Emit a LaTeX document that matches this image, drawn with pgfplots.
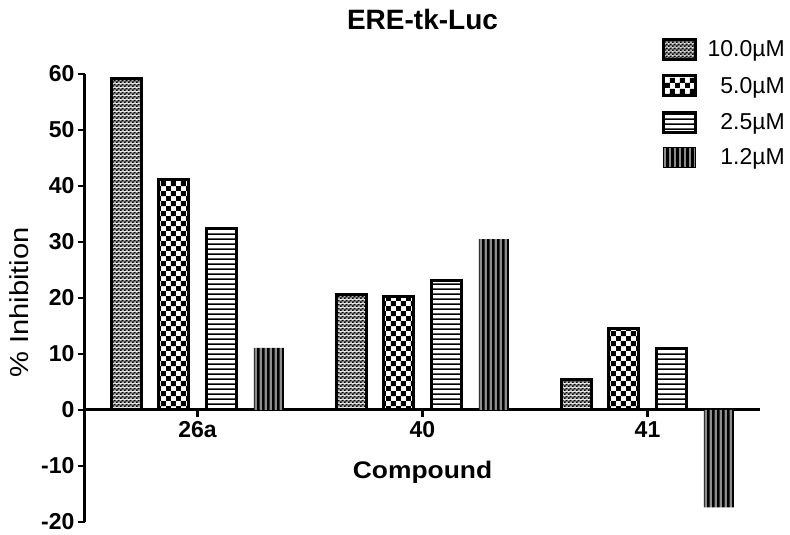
\documentclass[border=0pt]{standalone}
\usepackage{fontspec}
\setmainfont{Liberation Sans}
\usepackage{pgfplots}
\pgfplotsset{compat=1.18}
\usetikzlibrary{patterns}

% bar fills, as in the Prism export
\pgfdeclarepatterninherentlycolored{finecheck}{\pgfpointorigin}{\pgfpoint{4pt}{4pt}}{\pgfpoint{4pt}{4pt}}{%
  \pgfsetfillcolor{black!30}%
  \pgfpathrectangle{\pgfpointorigin}{\pgfpoint{4pt}{4pt}}\pgfusepath{fill}%
  \pgfsetfillcolor{black}%
  \pgfpathrectangle{\pgfpointorigin}{\pgfpoint{2pt}{2pt}}%
  \pgfpathrectangle{\pgfpoint{2pt}{2pt}}{\pgfpoint{2pt}{2pt}}%
  \pgfusepath{fill}}
\pgfdeclarepatternformonly{coarsecheck}{\pgfpointorigin}{\pgfpoint{10.4pt}{10.4pt}}{\pgfpoint{10.4pt}{10.4pt}}{%
  \pgfpathrectangle{\pgfpointorigin}{\pgfpoint{5.2pt}{5.2pt}}%
  \pgfpathrectangle{\pgfpoint{5.2pt}{5.2pt}}{\pgfpoint{5.2pt}{5.2pt}}%
  \pgfusepath{fill}}
\pgfdeclarepatternformonly{hstripes}{\pgfpointorigin}{\pgfpoint{400pt}{5pt}}{\pgfpoint{400pt}{5pt}}{%
  \pgfpathrectangle{\pgfpointorigin}{\pgfpoint{400pt}{1.8pt}}%
  \pgfusepath{fill}}
\pgfdeclarepatterninherentlycolored{vstripes}{\pgfpointorigin}{\pgfpoint{4.5pt}{400pt}}{\pgfpoint{4.5pt}{400pt}}{%
  \pgfsetfillcolor{black!45}%
  \pgfpathrectangle{\pgfpointorigin}{\pgfpoint{4.5pt}{400pt}}\pgfusepath{fill}%
  \pgfsetfillcolor{black}%
  \pgfpathrectangle{\pgfpointorigin}{\pgfpoint{3pt}{400pt}}\pgfusepath{fill}}

\begin{document}
\begin{tikzpicture}
\begin{axis}[
    name=ax,
    scale only axis,
    width=675pt, height=448pt,
    ybar, bar width=30pt, ybar=17.5pt,
    xmin=-0.5, xmax=2.5,
    ymin=-20, ymax=60,
    axis x line=middle, axis y line=left,
    axis line style={-, line width=3pt},
    hide obscured x ticks=false, hide obscured y ticks=false,
    tick align=outside,
    major tick length=7pt,
    tick style={line width=2.5pt, black},
    xtick={0,1,2},
    xticklabels={26a,40,41},
    ytick={-20,-10,0,10,20,30,40,50,60},
    yticklabels={-20,-10,0,10,20,30,40,50,60},
    ticklabel style={font=\fontsize{23}{23}\selectfont\bfseries},
    xticklabel style={yshift=-1pt},
    title={ERE-tk-Luc},
    title style={font=\fontsize{28}{28}\selectfont\bfseries, at={(axis description cs:0.5,1)}, anchor=center, yshift=49pt},
    xlabel={\scalebox{1.1}[1]{Compound}},
    xlabel style={font=\fontsize{24}{24}\selectfont\bfseries, at={(axis description cs:0.5,0.11)}, anchor=center},
    ylabel={\scalebox{1.12}[1]{\% Inhibition}},
    ylabel style={font=\fontsize{26}{26}\selectfont, at={(axis description cs:-0.097,0.49)}, anchor=center},
    legend image code/.code={\draw[#1] (0pt,-10pt) rectangle (32pt,10pt);},
    legend style={at={(axis description cs:1.0385,1.081)}, anchor=north east,
        draw=none, fill=none, inner sep=0pt, row sep=13.5pt,
        font=\fontsize{23}{23}\selectfont,
        nodes={inner sep=1pt},
        /tikz/every odd column/.append style={column sep=10pt}},
    legend cell align=right,
]
% 10.0 uM
\addplot[draw=black, line width=3pt, pattern=finecheck] coordinates {
    (0, 59.2) (1, 20.7) (2, 5.4)
};
% 5.0 uM
\addplot[draw=black, line width=3pt, pattern=coarsecheck] coordinates {
    (0, 41.2) (1, 20.3) (2, 14.5)
};
% 2.5 uM
\addplot[draw=black, line width=3pt, pattern=hstripes] coordinates {
    (0, 32.4) (1, 23.2) (2, 10.9)
};
% 1.2 uM
\addplot[draw=none, pattern=vstripes] coordinates {
    (0, 11.1) (1, 30.5) (2, -17.4)
};
\legend{10.0µM, 5.0µM, 2.5µM, 1.2µM}
\end{axis}
\pgfresetboundingbox
\path[use as bounding box] ([shift={(-85pt,-13pt)}]ax.south west) rectangle ([shift={(705pt,522pt)}]ax.south west);
\end{tikzpicture}
\end{document}
